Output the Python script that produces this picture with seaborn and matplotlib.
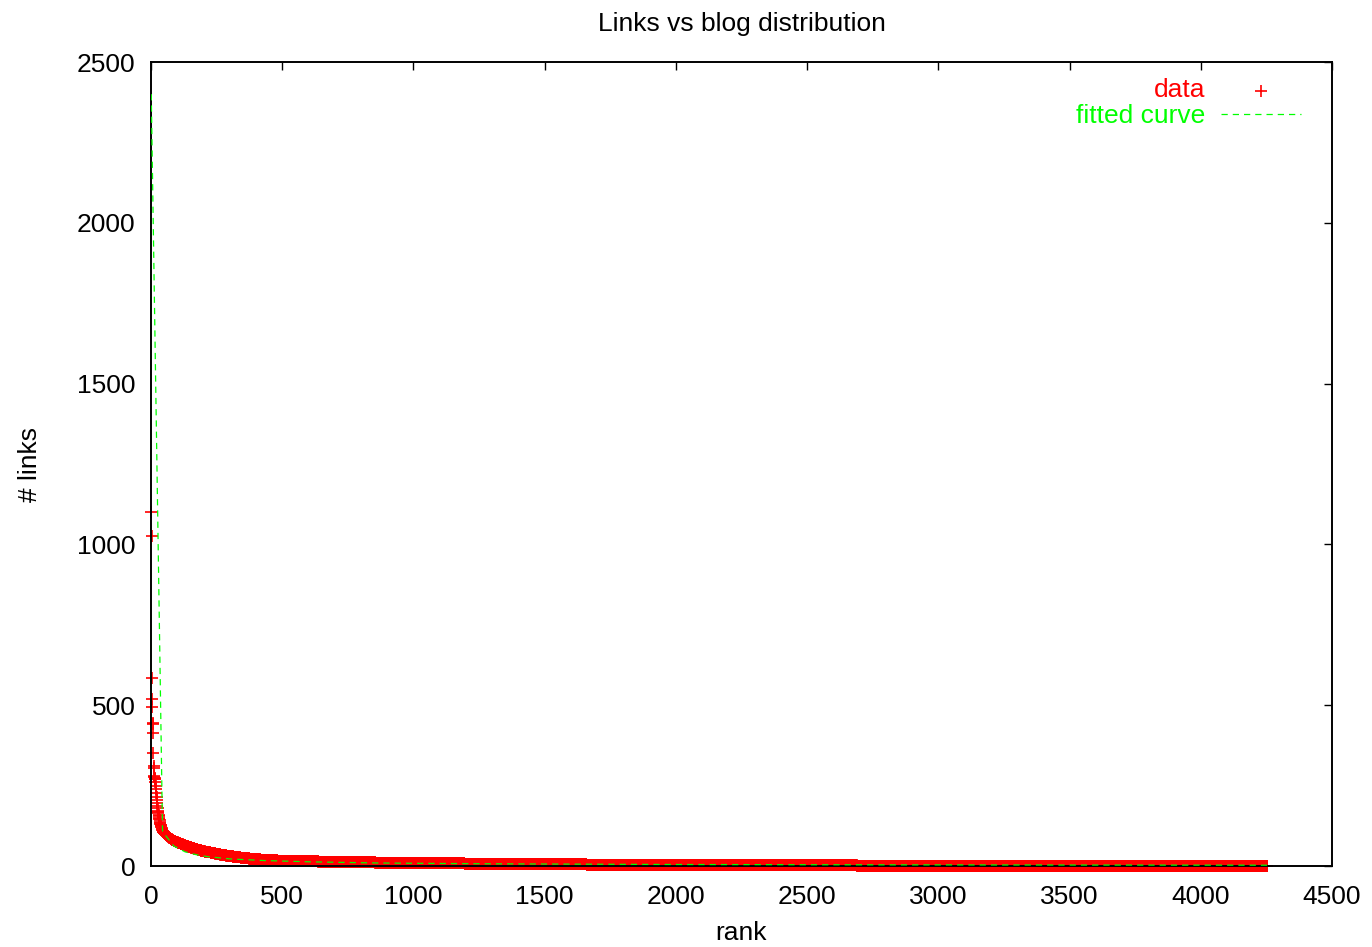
import numpy as np
import pandas as pd
import matplotlib
matplotlib.use("Agg")
import matplotlib.pyplot as plt
import seaborn as sns

# top-ranked blogs, link counts read one by one
top_links = [1100, 1025, 585, 520, 495, 445, 440, 415, 350, 312, 305, 280, 278,
             275, 272, 270, 262, 250, 240, 228, 215, 205, 196, 188, 180, 172,
             168, 165, 160, 155, 150, 146, 142, 138, 135, 132, 129, 126, 123,
             120, 117, 114, 112, 110, 108]

# rest of the blogs: link count -> number of blogs with that count (107 down to 1)
tail_links = list(range(107, 0, -1))
tail_counts = [1, 1, 1, 1, 1, 1, 1, 1,                                   # 107-100
               1, 2, 1, 2, 1, 2, 1, 2, 1, 2, 1, 2, 1, 2, 1, 2, 2, 2, 2, 2,  # 99-80
               2, 3, 3, 2, 3, 3, 3, 2, 3, 3, 3, 3, 3, 4, 3, 3, 3, 4, 3, 4,  # 79-60
               4, 4, 3, 4, 4, 5, 4, 4, 4, 5, 4, 5, 5, 4, 5,                 # 59-45
               5, 6, 6, 5, 6, 7, 6, 6, 7, 7,                                # 44-35
               8, 8, 9, 8, 9, 10, 9, 10, 10, 11,                            # 34-25
               12, 13, 14, 15, 17,                                          # 24-20
               22, 26, 30, 34,                                              # 19-16
               42, 50, 60, 72, 85, 100,                                     # 15-10
               115, 125, 140, 155,                                          # 9-6
               170, 190, 230,                                               # 5-3
               610, 1565]                                                   # 2, 1

# fitted curve as drawn (sampled points)
fit_rank = [1, 44, 87, 130, 173, 216, 302, 431, 603, 861, 1291, 1893, 2667, 3441, 4258]
fit_links = [2400, 107, 62, 44, 35, 29, 22, 17, 13, 9.4, 6.8, 4.9, 3.7, 3.0, 2.5]

links = np.concatenate([top_links, np.repeat(tail_links, tail_counts)])
df = pd.DataFrame({"rank": np.arange(1, len(links) + 1), "links": links})
fit = pd.DataFrame({"rank": fit_rank, "links": fit_links})

sns.set_style("white")
plt.rcParams["font.family"] = ["Liberation Sans", "DejaVu Sans"]
plt.rcParams["text.color"] = "black"
plt.rcParams["axes.labelcolor"] = "black"
FS = 19

fig = plt.figure(figsize=(13.72, 9.47), dpi=100)
ax = fig.add_axes([151 / 1372, 1 - 866 / 947, (1332 - 151) / 1372, (866 - 62) / 947])

sns.scatterplot(data=df, x="rank", y="links", marker="+", color="#ff0000",
                s=85, linewidth=1.2, ax=ax, label="data", zorder=2, clip_on=False)
sns.lineplot(data=fit, x="rank", y="links", color="#00ff00", linewidth=0.9,
             dashes=False, ax=ax, label="fitted curve", zorder=3)
ax.lines[-1].set_linestyle((0, (5, 4)))

ax.set_xlim(0, 4500)
ax.set_ylim(0, 2500)
ax.set_xticks(range(0, 4501, 500))
ax.set_yticks(range(0, 2501, 500))
ax.tick_params(direction="in", top=True, right=True, length=6, width=1,
               labelsize=FS, pad=11, colors="black")
ax.tick_params(axis="x", pad=14)
for sp in ax.spines.values():
    sp.set_linewidth(1.4)
    sp.set_color("black")

ax.set_title("Links vs blog distribution", fontsize=FS, pad=22, color="black")
ax.set_xlabel("rank", fontsize=FS, labelpad=8)
ax.set_ylabel("# links", fontsize=FS, labelpad=25)

leg = ax.legend(loc="upper right", frameon=False, markerfirst=False, fontsize=FS,
                labelcolor=["#ff0000", "#00ff00"], handlelength=3.0,
                handletextpad=0.6, borderaxespad=0.3, labelspacing=0.05,
                bbox_to_anchor=(1 - 13 / 1181, 1 + 2 / 804))

fig.savefig("out.png", dpi=100)
